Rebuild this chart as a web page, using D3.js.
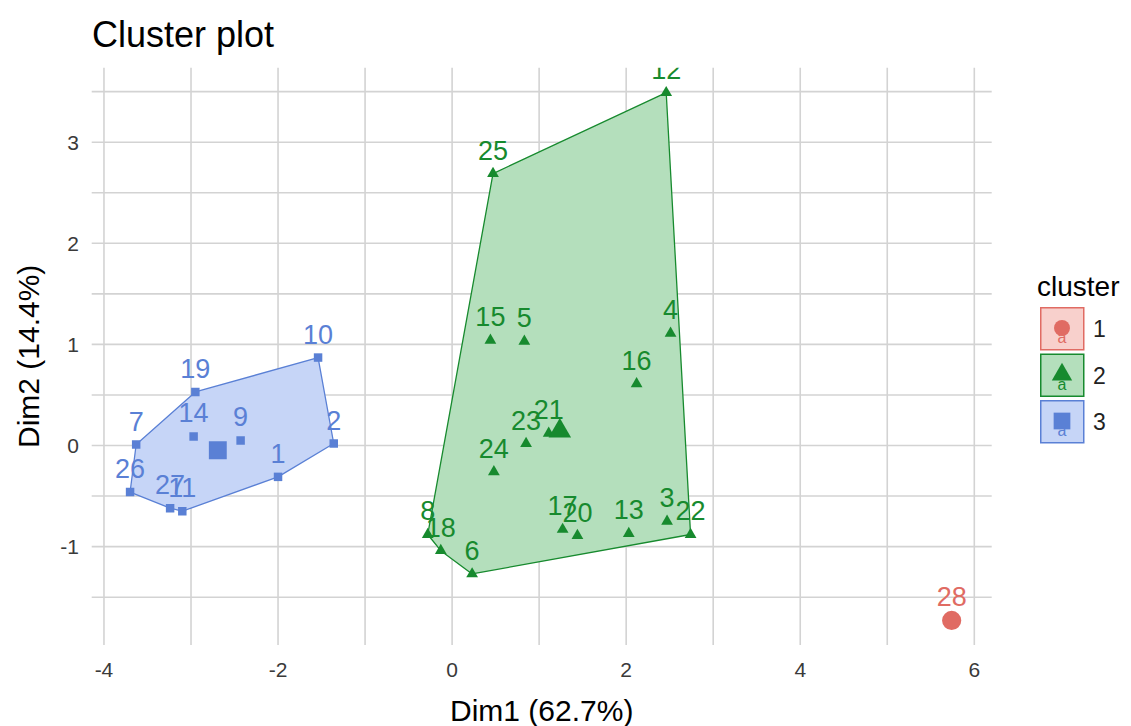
<!DOCTYPE html>
<html>
<head>
<meta charset="utf-8">
<script src="https://cdn.jsdelivr.net/npm/d3@7"></script>
<style>
  body { margin: 0; background: #fff; }
  text { font-family: "Liberation Sans", Arial, sans-serif; }
  .grid line { stroke: #d3d3d3; stroke-width: 1.6; }
  .tick-label { fill: #3a3a3a; font-size: 21px; }
</style>
</head>
<body>
<script>
// observations (row names), coordinates on the first two dimensions, cluster id
var ids = ["1","2","3","4","5","6","7","8","9","10","11","12","13","14",
           "15","16","17","18","19","20","21","22","23","24","25","26","27","28"];
var dim1 = [-2.00,-1.36, 2.47, 2.51, 0.83, 0.23,-3.63,-0.28,-2.43,-1.54,-3.10, 2.46, 2.03,-2.97,
             0.44, 2.12, 1.27,-0.13,-2.95, 1.44, 1.11, 2.74, 0.85, 0.48, 0.47,-3.70,-3.24, 5.74];
var dim2 = [-0.31, 0.02,-0.75, 1.11, 1.03,-1.27, 0.01,-0.88, 0.05, 0.87,-0.65, 3.49,-0.87, 0.09,
             1.04, 0.61,-0.83,-1.04, 0.53,-0.89, 0.12,-0.88, 0.02,-0.26, 2.69,-0.46,-0.62,-1.73];
var cluster = [3,3,2,2,2,2,3,2,3,3,3,2,2,3,2,2,2,2,3,2,2,2,2,2,2,3,3,1];

var clusters = [1, 2, 3];
var xTicks = [-4, -2, 0, 2, 4, 6];
var yTicks = [-1, 0, 1, 2, 3];

var colors = {1: "#e06b63", 2: "#178a2e", 3: "#5a80d5"};
var fills  = {1: "#f8d0cc", 2: "#b4dfbc", 3: "#c6d5f7"};
var shapes = {1: d3.symbolCircle, 2: d3.symbolTriangle, 3: d3.symbolSquare};
var smallSize = {1: 80, 2: 60, 3: 72};
var bigSize   = {1: 290, 2: 220, 3: 320};
var keySize   = {1: 200, 2: 180, 3: 280};

var width = 1131, height = 726;
var panel = {left: 91.7, right: 991.7, top: 67.7, bottom: 645};

var x = d3.scaleLinear().domain([-4.141, 6.2]).range([panel.left, panel.right]);
var y = d3.scaleLinear().domain([3.737, -1.973]).range([panel.top, panel.bottom]);

var pts = ids.map(function(id, i) {
    return {id: id, x: dim1[i], y: dim2[i], c: cluster[i]};
});

var svg = d3.select("body").append("svg")
    .attr("width", width)
    .attr("height", height);

svg.append("defs").append("clipPath")
    .attr("id", "clip")
  .append("rect")
    .attr("x", panel.left).attr("y", panel.top)
    .attr("width", panel.right - panel.left)
    .attr("height", panel.bottom - panel.top);

// grid (major + minor)
var grid = svg.append("g").attr("class", "grid");
var xGrid = d3.range(-4, 6.01, 1), yGrid = d3.range(-1.5, 3.51, 0.5);
grid.selectAll(".gx").data(xGrid).enter().append("line")
    .attr("x1", function(d) { return x(d); }).attr("x2", function(d) { return x(d); })
    .attr("y1", panel.top).attr("y2", panel.bottom);
grid.selectAll(".gy").data(yGrid).enter().append("line")
    .attr("y1", function(d) { return y(d); }).attr("y2", function(d) { return y(d); })
    .attr("x1", panel.left).attr("x2", panel.right);

var plot = svg.append("g").attr("clip-path", "url(#clip)");

// convex hulls
clusters.forEach(function(c) {
    var sub = pts.filter(function(p) { return p.c === c; });
    if (sub.length < 3) return;
    var hull = d3.polygonHull(sub.map(function(p) { return [x(p.x), y(p.y)]; }));
    plot.append("path")
        .attr("d", "M" + hull.join("L") + "Z")
        .attr("fill", fills[c])
        .attr("stroke", colors[c])
        .attr("stroke-width", 1.3)
        .attr("stroke-linejoin", "round");
});

// points
plot.selectAll(".pt").data(pts).enter().append("path")
    .attr("transform", function(d) { return "translate(" + x(d.x) + "," + y(d.y) + ")"; })
    .attr("d", function(d) { return d3.symbol(shapes[d.c], smallSize[d.c])(); })
    .attr("fill", function(d) { return colors[d.c]; });

// labels
plot.selectAll(".lab").data(pts).enter().append("text")
    .attr("x", function(d) { return x(d.x); })
    .attr("y", function(d) { return y(d.y) - 14; })
    .attr("text-anchor", "middle")
    .attr("font-size", 27)
    .attr("fill", function(d) { return colors[d.c]; })
    .text(function(d) { return d.id; });

// cluster centres
var centers = clusters.map(function(c) {
    var sub = pts.filter(function(p) { return p.c === c; });
    return {c: c, x: d3.mean(sub, function(p) { return p.x; }), y: d3.mean(sub, function(p) { return p.y; })};
});
plot.selectAll(".ctr").data(centers).enter().append("path")
    .attr("transform", function(d) { return "translate(" + x(d.x) + "," + y(d.y) + ")"; })
    .attr("d", function(d) { return d3.symbol(shapes[d.c], bigSize[d.c])(); })
    .attr("fill", function(d) { return colors[d.c]; });

// tick labels
svg.selectAll(".xt").data(xTicks).enter().append("text")
    .attr("class", "tick-label")
    .attr("x", function(d) { return x(d); })
    .attr("y", 677)
    .attr("text-anchor", "middle")
    .text(function(d) { return d; });
svg.selectAll(".yt").data(yTicks).enter().append("text")
    .attr("class", "tick-label")
    .attr("x", 79)
    .attr("y", function(d) { return y(d) + 7.5; })
    .attr("text-anchor", "end")
    .text(function(d) { return d; });

// titles
svg.append("text")
    .attr("x", 92).attr("y", 47)
    .attr("font-size", 36)
    .text("Cluster plot");
svg.append("text")
    .attr("x", (panel.left + panel.right) / 2).attr("y", 721)
    .attr("text-anchor", "middle")
    .attr("font-size", 30)
    .text("Dim1 (62.7%)");
svg.append("text")
    .attr("transform", "translate(39," + (panel.top + panel.bottom) / 2 + ") rotate(-90)")
    .attr("text-anchor", "middle")
    .attr("font-size", 30)
    .text("Dim2 (14.4%)");

// legend
var legend = svg.append("g").attr("transform", "translate(1040,0)");
legend.append("text")
    .attr("x", -3).attr("y", 296)
    .attr("font-size", 28)
    .text("cluster");
var keys = legend.selectAll(".key").data(clusters).enter().append("g")
    .attr("transform", function(d, i) { return "translate(0," + (307 + i * 46.5) + ")"; });
keys.append("rect")
    .attr("x", 0.75).attr("y", 0.75)
    .attr("width", 43).attr("height", 42)
    .attr("fill", function(d) { return fills[d]; })
    .attr("stroke", function(d) { return colors[d]; })
    .attr("stroke-width", 1.5);
keys.append("text")
    .attr("x", 22).attr("y", 36)
    .attr("text-anchor", "middle")
    .attr("font-size", 16)
    .attr("fill", function(d) { return colors[d]; })
    .text("a");
keys.append("path")
    .attr("transform", "translate(22,21)")
    .attr("d", function(d) { return d3.symbol(shapes[d], keySize[d])(); })
    .attr("fill", function(d) { return colors[d]; });
keys.append("text")
    .attr("x", 53).attr("y", 30)
    .attr("font-size", 23)
    .attr("fill", "#222")
    .text(function(d) { return d; });
</script>
</body>
</html>
